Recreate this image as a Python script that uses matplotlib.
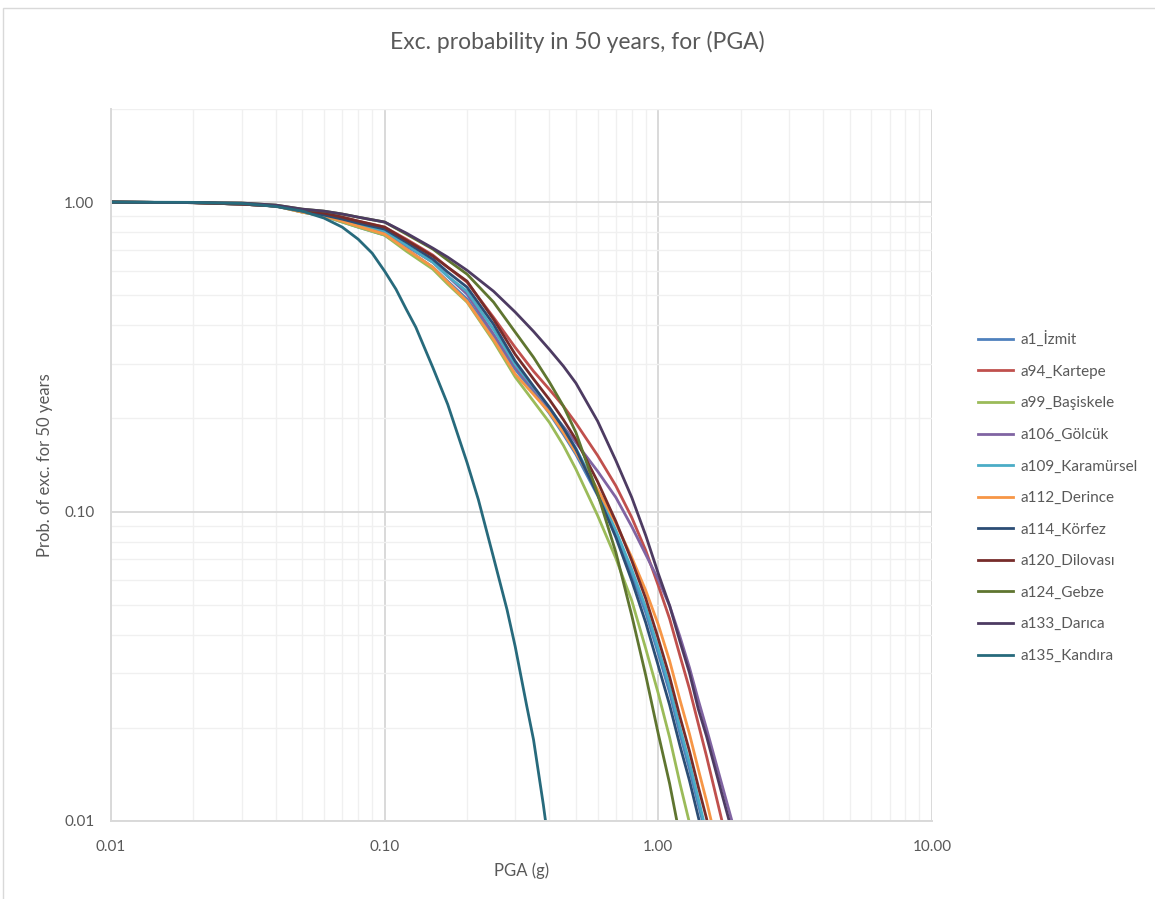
import matplotlib
matplotlib.use("Agg")
import matplotlib.pyplot as plt
from matplotlib.ticker import LogLocator, FixedLocator, NullFormatter
from matplotlib.patches import Rectangle

# PGA values (g) and exceedance probabilities
pga = [0.01, 0.02, 0.03, 0.04, 0.05, 0.06, 0.07, 0.08, 0.1, 0.12, 0.15,
       0.17, 0.2, 0.25, 0.3, 0.35, 0.4, 0.45, 0.5, 0.6, 0.7, 0.8, 0.9,
       1.0, 1.1, 1.2, 1.3, 1.4, 1.5, 1.7, 2.0]

izmit = [1.0, 0.996, 0.985, 0.971, 0.928, 0.901, 0.862, 0.830, 0.782,
         0.705, 0.616, 0.555, 0.486, 0.366, 0.288, 0.243, 0.2075, 0.1775,
         0.153, 0.1127, 0.0842, 0.0625, 0.0471, 0.0347, 0.0260, 0.0191,
         0.0147, 0.0113, 0.00891, 0.00551, 0.00299]
kartepe = [1.0, 0.996, 0.985, 0.971, 0.942, 0.921, 0.894, 0.868, 0.830,
           0.759, 0.674, 0.616, 0.551, 0.424, 0.339, 0.284, 0.248, 0.219,
           0.193, 0.1518, 0.121, 0.0956, 0.0748, 0.0576, 0.0450, 0.0342,
           0.0267, 0.0206, 0.0162, 0.0102, 0.00555]
basiskele = [1.0, 0.996, 0.985, 0.971, 0.928, 0.901, 0.862, 0.830, 0.782,
             0.694, 0.607, 0.543, 0.475, 0.355, 0.272, 0.227, 0.194, 0.1636,
             0.137, 0.0971, 0.0705, 0.0515, 0.0360, 0.0258, 0.0186, 0.0132,
             0.00985, 0.00759, 0.00580, 0.00347, 0.00176]
golcuk = [1.0, 0.996, 0.985, 0.971, 0.935, 0.908, 0.874, 0.843, 0.800,
          0.721, 0.639, 0.576, 0.504, 0.374, 0.292, 0.248, 0.214, 0.188,
          0.167, 0.135, 0.111, 0.0894, 0.0726, 0.0602, 0.0496, 0.0394,
          0.0313, 0.0246, 0.0199, 0.0133, 0.00790]
karamursel = [1.0, 0.996, 0.985, 0.971, 0.935, 0.908, 0.874, 0.849, 0.806,
              0.726, 0.639, 0.576, 0.515, 0.388, 0.299, 0.252, 0.217, 0.186,
              0.160, 0.117, 0.0868, 0.0649, 0.0489, 0.0360, 0.0272, 0.0200,
              0.0154, 0.0118, 0.00915, 0.00576, 0.00313]
derince = [1.0, 0.996, 0.985, 0.971, 0.928, 0.901, 0.868, 0.836, 0.788,
           0.705, 0.616, 0.551, 0.478, 0.360, 0.278, 0.239, 0.209, 0.180,
           0.155, 0.118, 0.0915, 0.0710, 0.0555, 0.0431, 0.0329, 0.0246,
           0.0191, 0.0147, 0.0116, 0.00731, 0.00397]
korfez = [1.0, 0.996, 0.985, 0.971, 0.935, 0.908, 0.881, 0.855, 0.818,
          0.742, 0.654, 0.594, 0.531, 0.403, 0.306, 0.254, 0.217, 0.186,
          0.159, 0.1135, 0.0824, 0.0598, 0.0437, 0.0317, 0.0237, 0.0175,
          0.0135, 0.0103, 0.00806, 0.00504, 0.00273]
dilovasi = [1.0, 0.996, 0.985, 0.971, 0.942, 0.921, 0.894, 0.868, 0.830,
            0.753, 0.669, 0.616, 0.555, 0.418, 0.322, 0.268, 0.230, 0.198,
            0.171, 0.125, 0.0928, 0.0694, 0.0523, 0.0388, 0.0292, 0.0217,
            0.0168, 0.0129, 0.0102, 0.00635, 0.00344]
gebze = [1.0, 0.996, 0.993, 0.978, 0.949, 0.935, 0.915, 0.894, 0.862,
         0.788, 0.705, 0.649, 0.585, 0.475, 0.380, 0.315, 0.262, 0.219,
         0.180, 0.1143, 0.0737, 0.0461, 0.0295, 0.0191, 0.0132, 0.00888,
         0.00644, 0.00467, 0.00350, 0.00196, 0.00093]
darica = [1.0, 0.996, 0.993, 0.978, 0.949, 0.935, 0.915, 0.894, 0.862,
          0.794, 0.710, 0.664, 0.602, 0.515, 0.441, 0.382, 0.334, 0.295,
          0.260, 0.196, 0.146, 0.1110, 0.0836, 0.0630, 0.0496, 0.0380,
          0.0301, 0.0230, 0.0188, 0.0124, 0.00731]

pga_kandira = [0.01, 0.02, 0.03, 0.04, 0.05, 0.06, 0.07, 0.08, 0.09, 0.1,
               0.11, 0.12, 0.13, 0.15, 0.17, 0.2, 0.22, 0.25, 0.28, 0.3,
               0.33, 0.35, 0.38, 0.4]
kandira = [1.0, 0.998, 0.99, 0.968, 0.935, 0.888, 0.830, 0.759, 0.684,
           0.598, 0.523, 0.450, 0.394, 0.292, 0.222, 0.144, 0.1093, 0.0710,
           0.0482, 0.0366, 0.0237, 0.0183, 0.0113, 0.00806]

labels = ["a1_İzmit", "a94_Kartepe", "a99_Başiskele", "a106_Gölcük",
          "a109_Karamürsel", "a112_Derince", "a114_Körfez", "a120_Dilovası",
          "a124_Gebze", "a133_Darıca", "a135_Kandıra"]
colors = ["#4F81BD", "#C0504D", "#9BBB59", "#8064A2", "#4BACC6", "#F79646",
          "#2C4D75", "#772C2A", "#5F7530", "#4D3B62", "#276A7C"]

x_ticks = [0.01, 0.1, 1.0, 10.0]
x_tick_labels = ["0.01", "0.10", "1.00", "10.00"]
y_ticks = [0.01, 0.1, 1.0]
y_tick_labels = ["0.01", "0.10", "1.00"]


def main():

    """
    main
    """

    plt.rcParams['font.family'] = ['Lato', 'DejaVu Sans']
    text_color = "#595959"

    fig = plt.figure(figsize=(11.55, 8.99), dpi=100)
    ax = fig.add_axes([0.0961, 0.0868, 0.7108, 0.792])

    # chart area border
    fig.patches.append(Rectangle((3 / 1155, -0.01), 1.1, 1 - 8 / 899 + 0.01,
                                 transform=fig.transFigure, fill=False,
                                 edgecolor="#D9D9D9", linewidth=1))

    series = [izmit, kartepe, basiskele, golcuk, karamursel, derince,
              korfez, dilovasi, gebze, darica]
    for values, label, color in zip(series, labels[:-1], colors[:-1]):
        ax.plot(pga, values, color=color, linewidth=2.0, label=label,
                solid_joinstyle='round')
    ax.plot(pga_kandira, kandira, color=colors[-1], linewidth=2.0,
            label=labels[-1], solid_joinstyle='round')

    ax.set_xscale('log')
    ax.set_yscale('log')
    ax.set_xlim(0.01, 10)
    ax.set_ylim(0.01, 2.0)

    # ticks and grid
    ax.xaxis.set_major_locator(FixedLocator(x_ticks))
    ax.set_xticklabels(x_tick_labels)
    ax.yaxis.set_major_locator(FixedLocator(y_ticks))
    ax.set_yticklabels(y_tick_labels)
    ax.xaxis.set_minor_locator(LogLocator(base=10, subs=range(2, 10)))
    ax.yaxis.set_minor_locator(LogLocator(base=10, subs=range(2, 10)))
    ax.xaxis.set_minor_formatter(NullFormatter())
    ax.yaxis.set_minor_formatter(NullFormatter())
    ax.grid(which='major', color="#D9D9D9", linewidth=1.4)
    ax.grid(which='minor', color="#F0F0F0", linewidth=1.0)
    ax.set_axisbelow(True)
    ax.tick_params(which='both', length=0, labelsize=11,
                   labelcolor=text_color)
    ax.tick_params(axis='x', pad=14)
    ax.tick_params(axis='y', pad=12)

    for side in ['top', 'right']:
        ax.spines[side].set_visible(False)
    for side in ['left', 'bottom']:
        ax.spines[side].set_color("#D9D9D9")
        ax.spines[side].set_linewidth(1.4)

    ax.set_xlabel('PGA (g)', fontsize=12, color=text_color, labelpad=6)
    ax.set_ylabel('Prob. of exc. for 50 years', fontsize=12,
                  color=text_color, labelpad=8)
    fig.text(0.5, 0.953, 'Exc. probability in 50 years, for (PGA)',
             ha='center', va='center', fontsize=16.5, color=text_color)

    ax.legend(loc='upper left', bbox_to_anchor=(0.835, 0.647),
              bbox_transform=fig.transFigure, frameon=False, fontsize=11,
              handlelength=2.3, labelspacing=1.15, handletextpad=0.5,
              labelcolor=text_color)

    fig.savefig("out.png", dpi=100)


if __name__ == "__main__":
    main()
